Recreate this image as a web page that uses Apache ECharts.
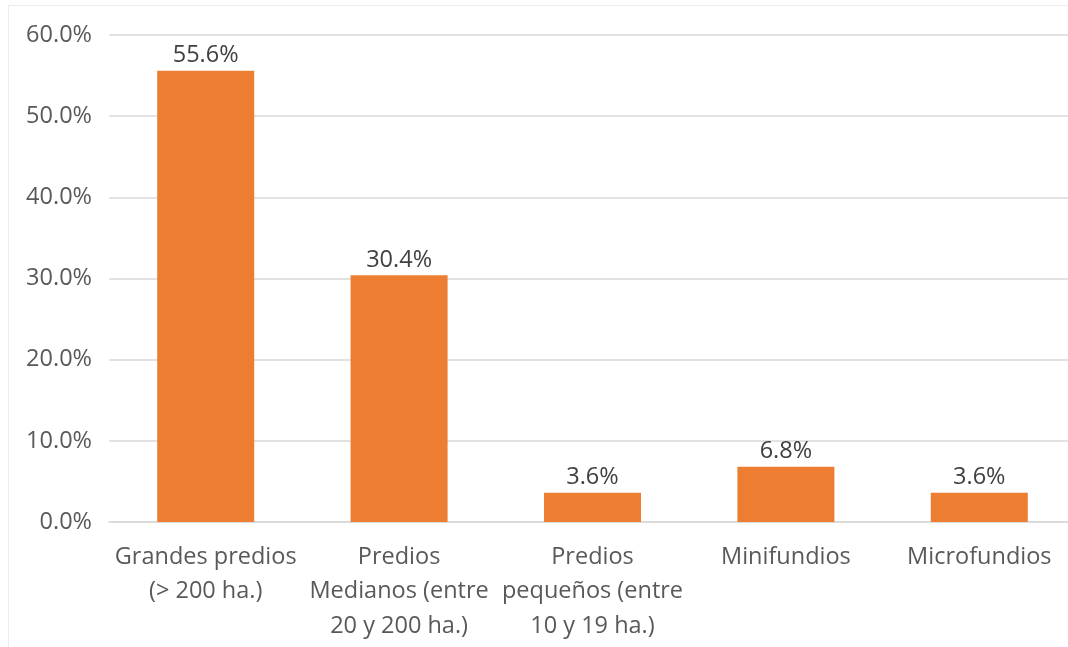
<!DOCTYPE html>
<html>
<head>
<meta charset="utf-8">
<script src="https://cdn.jsdelivr.net/npm/echarts@6/dist/echarts.min.js"></script>
<style>
html,body{margin:0;padding:0;background:#fff;overflow:hidden;width:1068px;height:647px;}
#c{width:1090px;height:647px;}
</style>
</head>
<body>
<div id="c"></div>
<script>
const categories = [
  "Grandes predios\n(> 200 ha.)",
  "Predios\nMedianos (entre\n20 y 200 ha.)",
  "Predios\npequeños (entre\n10 y 19 ha.)",
  "Minifundios",
  "Microfundios"
];
const values = [55.6, 30.4, 3.6, 6.8, 3.6];
const yTicks = { min: 0, max: 60, interval: 10 };

const FONT = "'Open Sans', 'Noto Sans', sans-serif";
const chart = echarts.init(document.getElementById('c'), null, { renderer: 'canvas' });
chart.setOption({
  backgroundColor: '#fff',
  animation: false,
  graphic: [{
    type: 'rect',
    shape: { x: 8.5, y: 5.5, width: 1070, height: 660 },
    style: { fill: 'none', stroke: '#ececec', lineWidth: 1 },
    silent: true
  }],
  grid: { left: 109, top: 35, width: 967, bottom: 125 },
  xAxis: {
    type: 'category',
    data: categories,
    axisLine: { show: true, lineStyle: { color: '#d9d9d9', width: 1.5 } },
    axisTick: { show: false },
    axisLabel: {
      interval: 0,
      color: '#595959',
      fontFamily: FONT,
      fontSize: 23.5,
      lineHeight: 34.5,
      margin: 18
    }
  },
  yAxis: {
    type: 'value',
    min: yTicks.min,
    max: yTicks.max,
    interval: yTicks.interval,
    axisLine: { show: false },
    axisTick: { show: false },
    splitLine: { lineStyle: { color: '#d9d9d9', width: 1.5 } },
    axisLabel: {
      color: '#595959',
      fontFamily: FONT,
      fontSize: 23.5,
      margin: 17,
      formatter: v => v.toFixed(1) + '%'
    }
  },
  series: [{
    type: 'bar',
    data: values,
    barWidth: 97,
    itemStyle: { color: '#ED7D31' },
    label: {
      show: true,
      position: 'top',
      distance: 3,
      color: '#404040',
      fontFamily: FONT,
      fontSize: 23.5,
      formatter: p => p.value.toFixed(1) + '%'
    }
  }]
});
</script>
</body>
</html>
